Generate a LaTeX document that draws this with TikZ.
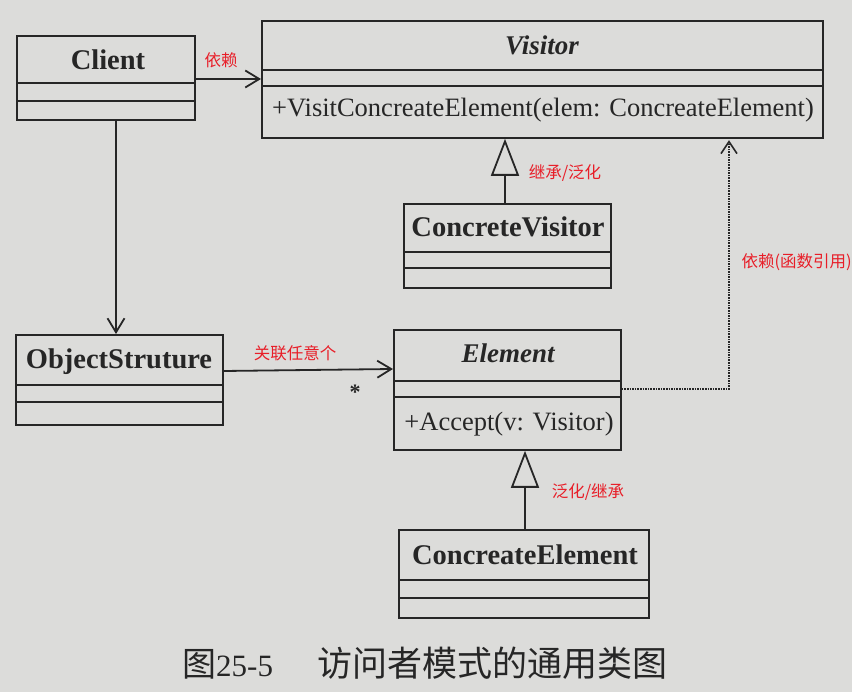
\documentclass[tikz,border=0pt]{standalone}
\usepackage{fontspec}
\setmainfont{Liberation Serif}
\newfontfamily\cjk{Noto Sans CJK SC}
\usetikzlibrary{arrows.meta}
\definecolor{paper}{RGB}{220,220,218}
\definecolor{ink}{RGB}{38,38,38}
\definecolor{note}{RGB}{232,30,40}
\tikzset{
  classbox/.style={draw=ink, line width=1.8pt, rectangle, anchor=north west, inner sep=0pt},
  cname/.style={anchor=base, text=ink, font=\fontsize{28.5}{30}\selectfont\bfseries},
  aname/.style={anchor=base, text=ink, font=\fontsize{27}{30}\selectfont\bfseries\itshape},
  member/.style={anchor=base, text=ink, font=\fontsize{26.5}{30}\selectfont},
  sep/.style={draw=ink, line width=1.8pt},
  remark/.style={text=note, font=\cjk\fontsize{16.5}{18}\selectfont},
  depend/.style={draw=ink, line width=1.8pt, -{Straight Barb[length=14pt,width=17pt,line width=1.8pt]}},
  uses/.style={draw=ink, line width=1.6pt, densely dotted, -{Straight Barb[length=12pt,width=16pt,line width=1.6pt,sep]}},
  inherit/.style={draw=ink, line width=1.8pt, -{Triangle[open,length=37pt,width=28pt,fill=paper,line width=1.8pt]}},
}
\begin{document}
\begin{tikzpicture}[x=1pt,y=-1pt]
  \fill[paper] (0,0) rectangle (852,692);
  \useasboundingbox (0,0) rectangle (852,692);

  % Client
  \node[classbox, minimum width=178pt, minimum height=84pt] (client) at (16,35) {};
  \node[cname] (clientname) at (108,70) {Client};
  \draw[sep] (client.west |- 0,83) -- (client.east |- 0,83);
  \draw[sep] (client.west |- 0,101) -- (client.east |- 0,101);

  % Visitor
  \node[classbox, minimum width=561pt, minimum height=117pt] (visitor) at (261,20) {};
  \node[aname] (visitorname) at (542,55) {Visitor};
  \draw[sep] (visitor.west |- 0,70) -- (visitor.east |- 0,70);
  \draw[sep] (visitor.west |- 0,86) -- (visitor.east |- 0,86);
  \node[member] (visitop) at (543,117) {+VisitConcreateElement(elem: ConcreateElement)};

  % ConcreteVisitor
  \node[classbox, minimum width=207pt, minimum height=84pt] (cvisitor) at (403,203) {};
  \node[cname] (cvisitorname) at (508,237) {ConcreteVisitor};
  \draw[sep] (cvisitor.west |- 0,252) -- (cvisitor.east |- 0,252);
  \draw[sep] (cvisitor.west |- 0,268) -- (cvisitor.east |- 0,268);

  % ObjectStruture
  \node[classbox, minimum width=207pt, minimum height=90pt] (objs) at (15,334) {};
  \node[cname] (objsname) at (119,369) {ObjectStruture};
  \draw[sep] (objs.west |- 0,385) -- (objs.east |- 0,385);
  \draw[sep] (objs.west |- 0,402) -- (objs.east |- 0,402);

  % Element
  \node[classbox, minimum width=227pt, minimum height=120pt] (element) at (393,329) {};
  \node[aname] (elementname) at (508,363) {Element};
  \draw[sep] (element.west |- 0,381) -- (element.east |- 0,381);
  \draw[sep] (element.west |- 0,397) -- (element.east |- 0,397);
  \node[member] (acceptop) at (509,431) {+Accept(v: Visitor)};

  % ConcreateElement
  \node[classbox, minimum width=250pt, minimum height=88pt] (celement) at (398,529) {};
  \node[cname] (celementname) at (525,565) {ConcreateElement};
  \draw[sep] (celement.west |- 0,580) -- (celement.east |- 0,580);
  \draw[sep] (celement.west |- 0,598) -- (celement.east |- 0,598);

  % connectors
  \coordinate (cx) at (116,0);
  \coordinate (gv) at (505,0);
  \coordinate (ge) at (525,0);
  \coordinate (dx) at (729,389);
  \draw[depend] (client.east |- 0,79) -- (visitor.west |- 0,79);
  \draw[depend] (client.south -| cx) -- (objs.north -| cx);
  \draw[depend] (objs.east |- 0,371) -- (element.west |- 0,369);
  \draw[inherit] (cvisitor.north -| gv) -- (visitor.south -| gv);
  \draw[inherit] (celement.north -| ge) -- (element.south -| ge);
  \draw[uses] (element.east |- dx) -- (dx) -- (visitor.south -| dx);

  % notes
  \node[remark] (n1) at (221,60) {依赖};
  \node[remark] (n2) at (565,173) {继承/泛化};
  \node[remark, anchor=west] (n3) at (738,262) {依赖(函数引用)};
  \node[remark] (n4) at (295,353) {关联任意个};
  \node[remark] (n5) at (588,492) {泛化/继承};
  \node[text=ink, font=\fontsize{22}{24}\selectfont\bfseries] (mult) at (355,392) {*};

  % caption
  \node[anchor=base west, text=ink, inner sep=0pt] (caption) at (182,676)
    {{\cjk\fontsize{34}{36}\selectfont 图}{\fontsize{31}{36}\selectfont 25-5}\hspace{44pt}{\cjk\fontsize{35}{36}\selectfont 访问者模式的通用类图}};
\end{tikzpicture}
\end{document}
